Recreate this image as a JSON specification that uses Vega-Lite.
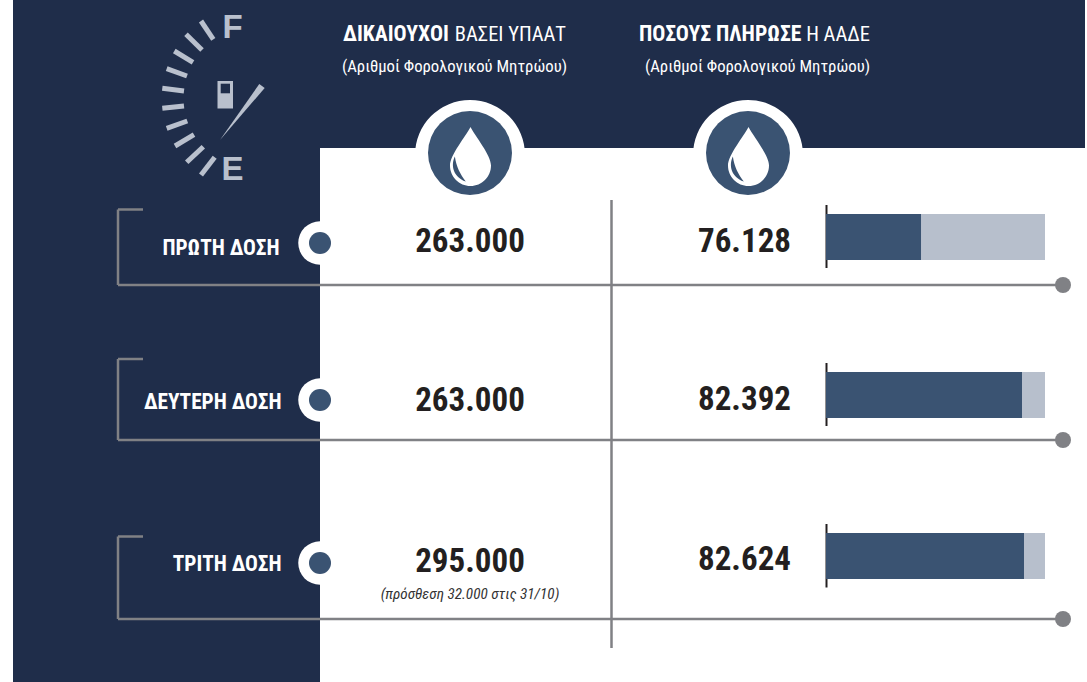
{"$schema":"https://vega.github.io/schema/vega-lite/v6.json","width":1087,"height":682,"padding":0,"autosize":"none","background":"white","view":{"stroke":null},
"config":{"locale":{"number":{"decimal":",","thousands":".","grouping":[3],"currency":["","€"]}}},
"resolve":{"scale":{"x":"independent","y":"independent"}},
"datasets":{
"doses":[{"dose":1,"label":"ΠΡΩΤΗ ΔΟΣΗ","eligible":263000,"paid":76128,"dotAt":320,"labelAt":279.5,"eligibleAt":470,"paidAt":744.5,"start":70235,"capacity":83820},{"dose":2,"label":"ΔΕΥΤΕΡΗ ΔΟΣΗ","eligible":263000,"paid":82392,"dotAt":320,"labelAt":281.5,"eligibleAt":470,"paidAt":744.5,"start":70235,"capacity":83820},{"dose":3,"label":"ΤΡΙΤΗ ΔΟΣΗ","eligible":295000,"paid":82624,"dotAt":320,"labelAt":281.5,"eligibleAt":470,"paidAt":744.5,"start":70235,"capacity":83820}],
"panels":[{"x":13,"x2":1085,"y":0,"y2":148},{"x":13,"x2":320,"y":148,"y2":682}],
"lines":[{"x":118,"x2":143,"y":209.5,"y2":209.5},{"x":118,"x2":118,"y":209.5,"y2":285},{"x":118,"x2":1063,"y":285,"y2":285},{"x":118,"x2":143,"y":359,"y2":359},{"x":118,"x2":118,"y":359,"y2":440},{"x":118,"x2":1063,"y":440,"y2":440},{"x":118,"x2":143,"y":536.5,"y2":536.5},{"x":118,"x2":118,"y":536.5,"y2":619},{"x":118,"x2":1063,"y":619,"y2":619},{"x":611.5,"x2":611.5,"y":200,"y2":648}],
"lineEnds":[{"x":1063,"y":285},{"x":1063,"y":440},{"x":1063,"y":619}],
"baselines":[{"x":826.5,"x2":826.5,"y":205,"y2":268},{"x":826.5,"x2":826.5,"y":363,"y2":426},{"x":826.5,"x2":826.5,"y":524,"y2":587.5}],
"gaugeTicks":[{"x":201,"y":21,"x2":213.3,"y2":39.3},{"x":186,"y":34.3,"x2":202,"y2":50},{"x":174.3,"y":51,"x2":193,"y2":62.3},{"x":166.7,"y":68.7,"x2":187,"y2":76},{"x":162.3,"y":88.3,"x2":184,"y2":91},{"x":162.3,"y":108.3,"x2":184,"y2":106},{"x":166.7,"y":128.3,"x2":187.3,"y2":121},{"x":175,"y":146,"x2":194,"y2":134.7},{"x":186.7,"y":162.3,"x2":203.3,"y2":146.7},{"x":201,"y":175,"x2":214.7,"y2":157.3}],
"gaugeCenter":[{"x":240,"y":110}],
"pump":[{"x":217.5,"x2":233,"y":81,"y2":108.5}],
"pumpWindow":[{"x":220.7,"x2":230,"y":83.7,"y2":93.3}],
"gaugeLetters":[{"x":232.5,"y":38,"t":"F"},{"x":232.5,"y":180,"t":"E"}],
"columns":[{"x":470,"y":155},{"x":748,"y":155}],
"columnBadges":[{"x":470,"y":153},{"x":748,"y":153}],
"drops":[{"x":470.5,"y":156.5},{"x":748.5,"y":156.5}],
"headBold":[{"x":343,"y":41,"t":"ΔΙΚΑΙΟΥΧΟΙ"},{"x":639,"y":41,"t":"ΠΟΣΟΥΣ ΠΛΗΡΩΣΕ"}],
"headReg":[{"x":566,"y":41,"t":"ΒΑΣΕΙ ΥΠΑΑΤ"},{"x":870,"y":41,"t":"Η ΑΑΔΕ"}],
"headSub":[{"x":567,"y":72,"t":"(Αριθμοί Φορολογικού Μητρώου)"},{"x":870,"y":72,"t":"(Αριθμοί Φορολογικού Μητρώου)"}],
"note":[{"x":470,"y":599,"t":"(πρόσθεση 32.000 στις 31/10)"}]
},
"encoding":{
"x":{"field":"x","type":"quantitative","axis":null,"scale":{"domain":[0,1087],"range":[0,1087]}},
"y":{"field":"y","type":"quantitative","axis":null,"scale":{"domain":[0,682],"range":[0,682]}}
},
"layer":[
{"data":{"name":"panels"},"mark":{"type":"rect","color":"#1f2d4a"},"encoding":{"x2":{"field":"x2"},"y2":{"field":"y2"}}},
{"data":{"name":"lines"},"mark":{"type":"rule","color":"#808185","strokeWidth":2.5},"encoding":{"x2":{"field":"x2"},"y2":{"field":"y2"}}},
{"data":{"name":"lineEnds"},"mark":{"type":"circle","color":"#808185","size":256,"opacity":1}},
{"data":{"name":"gaugeTicks"},"mark":{"type":"rule","color":"#b9c0cd","strokeWidth":5},"encoding":{"x2":{"field":"x2"},"y2":{"field":"y2"}}},
{"data":{"name":"gaugeCenter"},"mark":{"type":"point","filled":true,"opacity":1,"color":"#b9c0cd","size":3600,"shape":"M-0.667,1 L0.643,-0.867 L0.823,-0.733 Z"}},
{"data":{"name":"pump"},"mark":{"type":"rect","color":"#b9c0cd"},"encoding":{"x2":{"field":"x2"},"y2":{"field":"y2"}}},
{"data":{"name":"pumpWindow"},"mark":{"type":"rect","color":"#1f2d4a"},"encoding":{"x2":{"field":"x2"},"y2":{"field":"y2"}}},
{"data":{"name":"gaugeLetters"},"mark":{"type":"text","font":"Liberation Sans","fontWeight":"bold","fontSize":33,"color":"#b9c0cd","align":"center","baseline":"alphabetic"},"encoding":{"text":{"field":"t"}}},
{"data":{"name":"columns"},"mark":{"type":"circle","color":"white","size":12100,"opacity":1}},
{"data":{"name":"columnBadges"},"mark":{"type":"circle","color":"#3a5372","size":7056,"opacity":1}},
{"data":{"name":"drops"},"mark":{"type":"point","filled":true,"opacity":1,"color":"white","size":3481,"shape":"M0,-1 C0.15,-0.7 0.695,-0.05 0.695,0.305 A0.695,0.695 0 1 1 -0.695,0.305 C-0.695,-0.05 -0.15,-0.7 0,-1 Z"}},
{"data":{"name":"drops"},"mark":{"type":"point","filled":true,"opacity":1,"color":"#3a5372","size":3481,"shape":"M-0.53,0 C-0.68,0.3 -0.58,0.7 -0.16,0.85 C-0.35,0.6 -0.48,0.35 -0.53,0 Z"}},
{"data":{"name":"headBold"},"mark":{"type":"text","font":"Roboto Condensed","fontWeight":"bold","fontSize":21.7,"color":"white","align":"left","baseline":"alphabetic"},"encoding":{"text":{"field":"t"}}},
{"data":{"name":"headReg"},"mark":{"type":"text","font":"Roboto Condensed","fontSize":20.5,"color":"white","align":"right","baseline":"alphabetic"},"encoding":{"text":{"field":"t"}}},
{"data":{"name":"headSub"},"mark":{"type":"text","font":"Roboto Condensed","fontSize":16.7,"color":"white","align":"right","baseline":"alphabetic"},"encoding":{"text":{"field":"t"}}},
{"data":{"name":"note"},"mark":{"type":"text","font":"Roboto Condensed","fontStyle":"italic","fontSize":15.2,"color":"#333333","align":"center","baseline":"alphabetic"},"encoding":{"text":{"field":"t"}}},
{"data":{"name":"baselines"},"mark":{"type":"rule","color":"#231f20","strokeWidth":2},"encoding":{"x2":{"field":"x2"},"y2":{"field":"y2"}}},
{"data":{"name":"doses"},"mark":{"type":"circle","color":"white","size":1892,"opacity":1},"encoding":{"x":{"field":"dotAt","type":"quantitative","axis":null,"scale":{"domain":[0,1087],"range":[0,1087]}},"y":{"field":"dose","type":"quantitative","axis":null,"scale":{"domain":[1,2,3],"range":[243,400,563]}}}},
{"data":{"name":"doses"},"mark":{"type":"circle","color":"#3a5372","size":484,"opacity":1},"encoding":{"x":{"field":"dotAt","type":"quantitative","axis":null,"scale":{"domain":[0,1087],"range":[0,1087]}},"y":{"field":"dose","type":"quantitative","axis":null,"scale":{"domain":[1,2,3],"range":[243,400,563]}}}},
{"data":{"name":"doses"},"mark":{"type":"text","font":"Roboto Condensed","fontWeight":"bold","fontSize":21.3,"color":"white","align":"right","baseline":"alphabetic"},"encoding":{"text":{"field":"label"},"x":{"field":"labelAt","type":"quantitative","axis":null,"scale":{"domain":[0,1087],"range":[0,1087]}},"y":{"field":"dose","type":"quantitative","axis":null,"scale":{"domain":[1,2,3],"range":[254.5,408.5,571]}}}},
{"data":{"name":"doses"},"mark":{"type":"text","font":"Roboto Condensed","fontWeight":"bold","fontSize":33,"color":"#231f20","align":"center","baseline":"alphabetic"},"encoding":{"text":{"field":"eligible","format":",d"},"x":{"field":"eligibleAt","type":"quantitative","axis":null,"scale":{"domain":[0,1087],"range":[0,1087]}},"y":{"field":"dose","type":"quantitative","axis":null,"scale":{"domain":[1,2,3],"range":[252,411,572]}}}},
{"data":{"name":"doses"},"mark":{"type":"text","font":"Roboto Condensed","fontWeight":"bold","fontSize":33,"color":"#231f20","align":"center","baseline":"alphabetic"},"encoding":{"text":{"field":"paid","format":",d"},"x":{"field":"paidAt","type":"quantitative","axis":null,"scale":{"domain":[0,1087],"range":[0,1087]}},"y":{"field":"dose","type":"quantitative","axis":null,"scale":{"domain":[1,2,3],"range":[252,410,570]}}}},
{"data":{"name":"doses"},"mark":{"type":"rule","color":"#b7bfcc","strokeWidth":46},"encoding":{"x":{"field":"start","type":"quantitative","axis":null,"scale":{"domain":[70235,82392,82624,83820],"range":[826,1022,1024,1045]}},"x2":{"field":"capacity"},"y":{"field":"dose","type":"quantitative","axis":null,"scale":{"domain":[1,2,3],"range":[237,395,556]}}}},
{"data":{"name":"doses"},"mark":{"type":"rule","color":"#3a5372","strokeWidth":46},"encoding":{"x":{"field":"paid","type":"quantitative","axis":null,"scale":{"domain":[70235,82392,82624,83820],"range":[826,1022,1024,1045]}},"x2":{"field":"start"},"y":{"field":"dose","type":"quantitative","axis":null,"scale":{"domain":[1,2,3],"range":[237,395,556]}}}}
]}
